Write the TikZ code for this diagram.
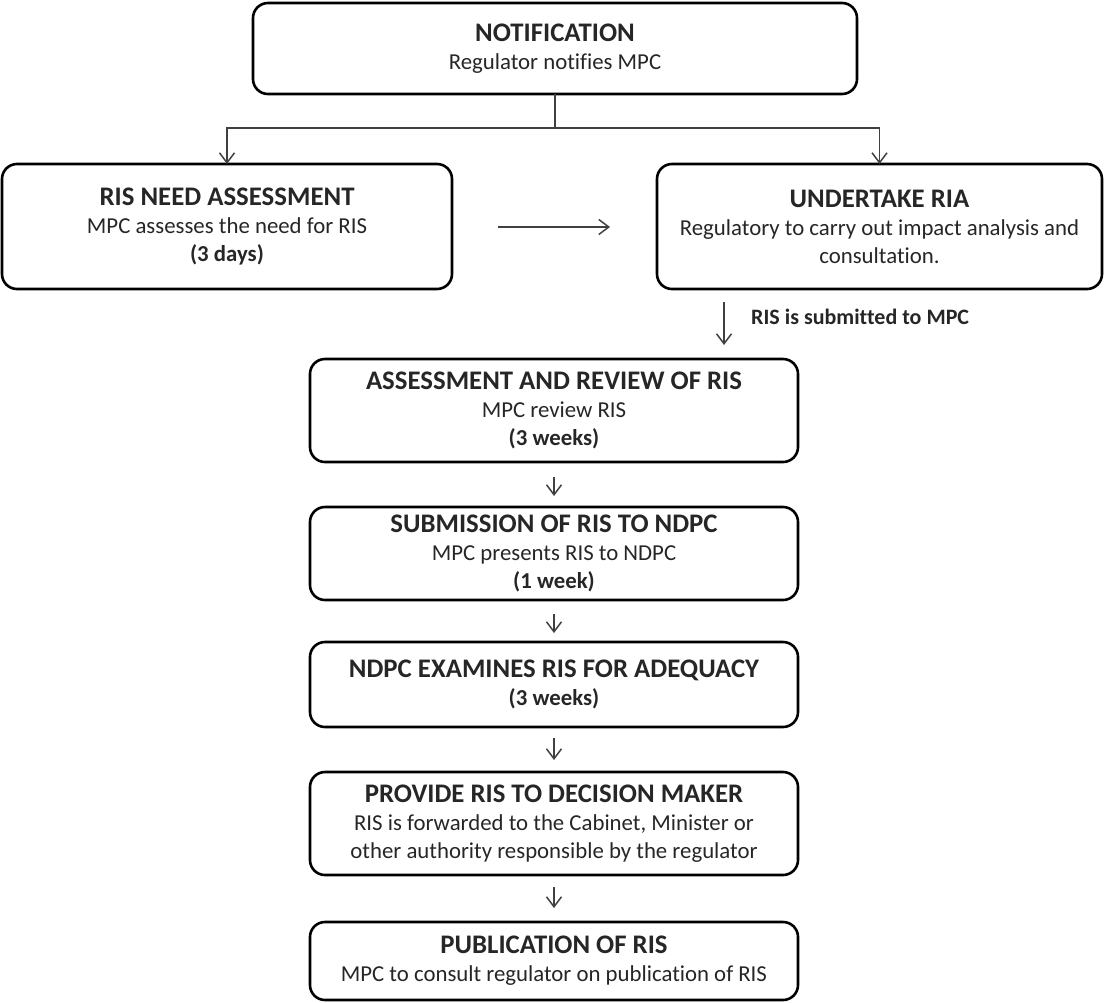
\documentclass[tikz,border=0pt]{standalone}
\usepackage{fontspec}
\setmainfont{Carlito}[Ligatures=NoCommon]
\usetikzlibrary{arrows.meta}
\newcommand{\ttl}[1]{{\fontsize{26.8}{28}\selectfont\bfseries #1}}
\begin{document}
\begin{tikzpicture}[x=1pt,y=-1pt,
  flowbox/.style={draw=black, line width=2.6pt, rounded corners=15pt, align=center,
    inner sep=0pt, outer sep=0pt, font=\fontsize{22.8}{28}\selectfont, text=black!85},
  conn/.style={draw=black!75, line width=1.5pt},
  arr/.style={conn, -{Straight Barb[length=10pt,width=15pt,line width=1.5pt]}},
  lblstyle/.style={font=\fontsize{22}{26}\selectfont\bfseries, text=black!85, inner sep=0pt, anchor=west}]
\useasboundingbox (0,0) rectangle (1105,1002);

\node[flowbox, minimum width=604, minimum height=91] (notif) at (555,48.5)
  {\ttl{NOTIFICATION}\\Regulator notifies MPC};

\node[flowbox, minimum width=450, minimum height=125] (need) at (227,226.5)
  {\ttl{RIS NEED ASSESSMENT}\\MPC assesses the need for RIS\\\textbf{(3 days)}};

\node[flowbox, minimum width=445, minimum height=125] (ria) at (879.5,226.5)
  {\ttl{UNDERTAKE RIA}\\Regulatory to carry out impact analysis and\\consultation.};

\node[flowbox, minimum width=488, minimum height=103] (assess) at (554,410.5)
  {\ttl{ASSESSMENT AND REVIEW OF RIS}\\MPC review RIS\\\textbf{(3 weeks)}};

\node[flowbox, minimum width=488, minimum height=93] (sub) at (554,553.5)
  {\ttl{SUBMISSION OF RIS TO NDPC}\\MPC presents RIS to NDPC\\\textbf{(1 week)}};

\node[flowbox, minimum width=488, minimum height=85] (ndpc) at (554,684.5)
  {\ttl{NDPC EXAMINES RIS FOR ADEQUACY}\\\textbf{(3 weeks)}};

\node[flowbox, minimum width=488, minimum height=103] (prov) at (554,823.5)
  {\ttl{PROVIDE RIS TO DECISION MAKER}\\RIS is forwarded to the Cabinet, Minister or\\other authority responsible by the regulator};

\node[flowbox, minimum width=488, minimum height=78] (pub) at (554,961)
  {\ttl{PUBLICATION OF RIS}\\MPC to consult regulator on publication of RIS};

% branch from notification
\coordinate (split) at (555,128);
\draw[conn] (notif.south) -- (split);
\draw[arr] (split) -| (need.north);
\draw[arr] (split) -| (ria.north);

% horizontal arrow
\coordinate (h1) at (498,227);
\coordinate (h2) at (610,227);
\draw[arr] (h1) -- (h2);

% submitted arrow
\coordinate (s1) at (724,302);
\coordinate (s2) at (724,345);
\draw[arr] (s1) -- (s2);
\node[lblstyle] (lbl) at (751,317) {RIS is submitted to MPC};

% vertical chain
\draw[arr] ([yshift=-15pt]assess.south) -- ([yshift=11pt]sub.north);
\draw[arr] ([yshift=-14pt]sub.south) -- ([yshift=9pt]ndpc.north);
\draw[arr] ([yshift=-11pt]ndpc.south) -- ([yshift=12pt]prov.north);
\draw[arr] ([yshift=-12pt]prov.south) -- ([yshift=14pt]pub.north);
\end{tikzpicture}
\end{document}
